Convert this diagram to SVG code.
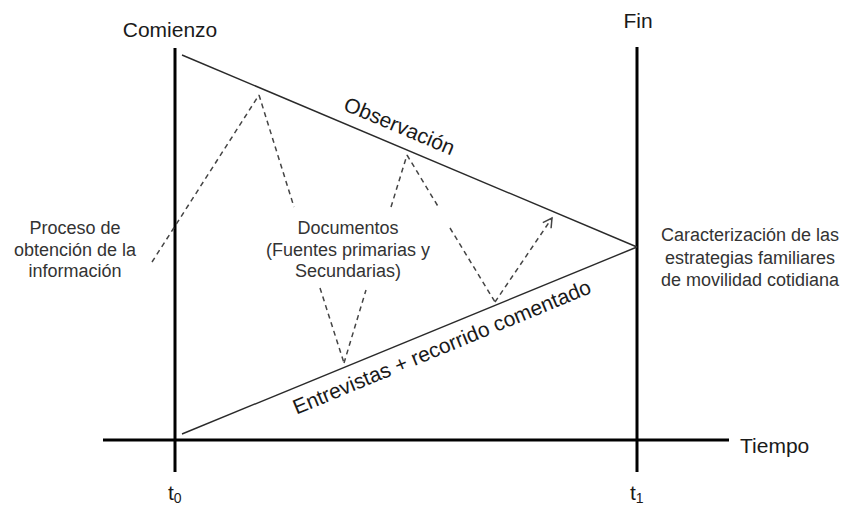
<svg xmlns="http://www.w3.org/2000/svg" width="844" height="510" viewBox="0 0 844 510">
<defs>
<style>
.axis{stroke:#000;stroke-width:3;fill:none}
.thin{stroke:#2a2a2a;stroke-width:1.4;fill:none}
.dash{stroke:#444;stroke-width:1.5;fill:none;stroke-dasharray:5 4}
.cal{font-family:"Liberation Sans","Open Sans",sans-serif;font-size:21px;fill:#1a1a1a}
.ari{font-family:"Liberation Sans",Arial,sans-serif;font-size:18px;fill:#333;text-anchor:middle}
</style>
<marker id="open" markerWidth="14" markerHeight="14" refX="10" refY="6" orient="auto" markerUnits="userSpaceOnUse">
<polyline points="1,1 10,6 1,11" fill="none" stroke="#444" stroke-width="1.5"/>
</marker>
</defs>
<rect width="844" height="510" fill="#fff"/>
<g id="axes">
<line class="axis" x1="175" y1="48" x2="175" y2="472"/>
<line class="axis" x1="637" y1="47" x2="637" y2="472"/>
<line class="axis" x1="103" y1="440" x2="729" y2="440"/>
</g>
<g id="connectors">
<line class="thin" x1="182" y1="55" x2="637" y2="247"/>
<line class="thin" x1="182" y1="434" x2="637" y2="247"/>
<line class="dash" x1="152" y1="262" x2="259" y2="95"/>
<line class="dash" x1="259" y1="95" x2="294" y2="207"/>
<line class="dash" x1="320" y1="288" x2="344" y2="363"/>
<line class="dash" x1="344" y1="363" x2="366" y2="290"/>
<line class="dash" x1="391" y1="207" x2="407" y2="155"/>
<line class="dash" x1="407" y1="155" x2="439" y2="208"/>
<line class="dash" x1="450" y1="228" x2="495" y2="302"/>
<line class="dash" x1="495" y1="302" x2="552" y2="218" marker-end="url(#open)"/>
</g>
<g id="comienzo"><text class="cal" x="170" y="37" text-anchor="middle">Comienzo</text></g>
<g id="fin"><text class="cal" x="638" y="28" text-anchor="middle">Fin</text></g>
<g id="tiempo"><text class="cal" x="740" y="453">Tiempo</text></g>
<g id="t0"><text class="cal" x="168" y="500">t<tspan font-size="14" dy="3">0</tspan></text></g>
<g id="t1"><text class="cal" x="630" y="500">t<tspan font-size="14" dy="3">1</tspan></text></g>
<g id="observacion"><text class="cal" font-size="22" text-anchor="middle" transform="translate(392,143.6) rotate(22.88)" y="-12">Observación</text></g>
<g id="entrevistas"><text class="cal" font-size="22" text-anchor="middle" transform="translate(435,330.5) rotate(-22.45)" y="25">Entrevistas + recorrido comentado</text></g>
<g id="proceso">
<text class="ari" x="75" y="234">Proceso de</text>
<text class="ari" x="75" y="256">obtención de la</text>
<text class="ari" x="75" y="277">información</text>
</g>
<g id="documentos">
<text class="ari" x="348" y="234">Documentos</text>
<text class="ari" x="348" y="256">(Fuentes primarias y</text>
<text class="ari" x="348" y="277">Secundarias)</text>
</g>
<g id="caracterizacion">
<text class="ari" x="750" y="241">Caracterización de las</text>
<text class="ari" x="750" y="264">estrategias familiares</text>
<text class="ari" x="750" y="286">de movilidad cotidiana</text>
</g>
</svg>
